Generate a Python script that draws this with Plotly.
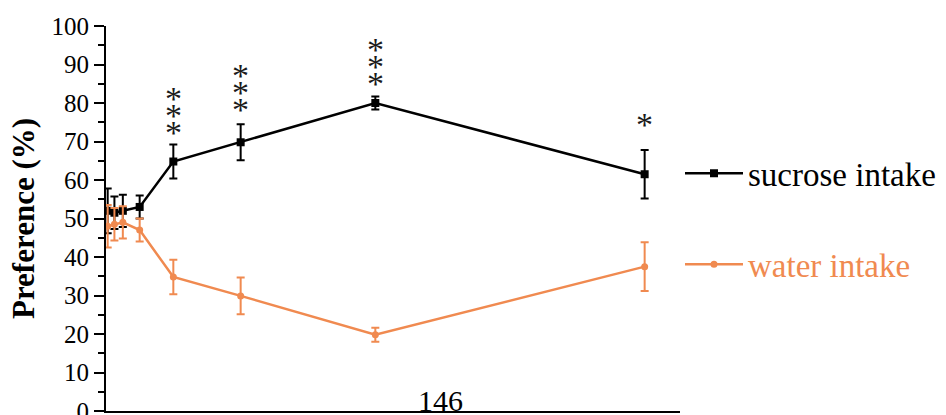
import plotly.graph_objects as go

# Time points (days) and preference values (%)
days = [0.05, 0.25, 0.5, 1, 2, 4, 8, 16]
sucrose = [52, 51.5, 52, 53, 64.8, 69.8, 80, 61.5]
sucrose_err = [5.8, 4.2, 4.2, 3.0, 4.4, 4.7, 1.7, 6.3]
water = [48, 48.5, 49, 47, 34.8, 29.9, 19.8, 37.5]
water_err = [5.5, 4.2, 4.2, 3.0, 4.5, 4.8, 1.8, 6.3]

# Significance marks above the sucrose series
sig_days = [2, 4, 8, 16]
sig_stars = [3, 3, 3, 1]
sig_gap = [12, 15, 13, 25]

y_ticks = list(range(0, 101, 10))
page_label = "146"

ORANGE = "#F08A50"
FONT = "Liberation Serif"

fig = go.Figure()

fig.add_trace(go.Scatter(
    x=days, y=sucrose, mode="lines+markers",
    name="sucrose intake",
    line=dict(color="black", width=2.5),
    marker=dict(symbol="square", size=8, color="black"),
    error_y=dict(type="data", array=sucrose_err, color="black", thickness=2, width=4),
    legendgroup="s",
))
fig.add_trace(go.Scatter(
    x=days, y=water, mode="lines+markers",
    name=f"<span style='color:{ORANGE}'>water intake</span>",
    line=dict(color=ORANGE, width=2.5),
    marker=dict(symbol="circle", size=7, color=ORANGE),
    error_y=dict(type="data", array=water_err, color=ORANGE, thickness=2, width=4),
    legendgroup="w",
))

annotations = []
for d, n, gap in zip(sig_days, sig_stars, sig_gap):
    i = days.index(d)
    top = sucrose[i] + sucrose_err[i]
    for k in range(n):
        annotations.append(dict(
            x=d, y=top, xref="x", yref="y", text="*", showarrow=False,
            font=dict(family=FONT, size=34, color="#1a1a1a"),
            yanchor="middle", yshift=gap + 17 * k,
        ))

annotations.append(dict(
    x=0.582, y=0, xref="paper", yref="paper", text=page_label, showarrow=False,
    font=dict(family=FONT, size=30, color="black"),
    yanchor="bottom", yshift=-8,
))

fig.update_layout(
    width=946, height=415,
    margin=dict(l=106, r=266, t=26, b=4),
    plot_bgcolor="white", paper_bgcolor="white",
    font=dict(family=FONT, color="black"),
    showlegend=True,
    legend=dict(
        x=1.0, xanchor="left", y=0.69, yanchor="top",
        font=dict(family=FONT, size=33, color="black"),
        tracegroupgap=45, itemwidth=58,
        bgcolor="rgba(0,0,0,0)",
    ),
    annotations=annotations,
)

fig.update_xaxes(
    range=[0, 17.05], showgrid=False, zeroline=False, automargin=False,
    showline=True, linecolor="black", linewidth=2,
    showticklabels=False, ticks="",
)
fig.update_yaxes(
    range=[0, 100], showgrid=False, zeroline=False, automargin=False,
    showline=True, linecolor="black", linewidth=2,
    tickvals=y_ticks, ticks="outside", ticklen=10, tickwidth=2, tickcolor="black",
    tickfont=dict(family=FONT, size=25, color="black"),
    ticklabeloverflow="allow",
    minor=dict(dtick=5, ticks="outside", ticklen=6, tickwidth=2, tickcolor="black"),
    title=dict(text="<b>Preference (%)</b>", font=dict(family=FONT, size=31, color="black"), standoff=8),
)

fig.write_html("out.html")
